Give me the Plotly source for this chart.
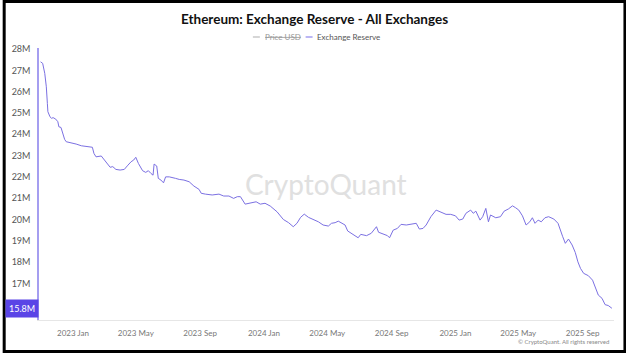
import plotly.graph_objects as go

dates = [
    "2022-10-31", "2022-11-04", "2022-11-08", "2022-11-11", "2022-11-13", "2022-11-14", "2022-11-18",
    "2022-11-21", "2022-11-24", "2022-11-29", "2022-12-03", "2022-12-05", "2022-12-09", "2022-12-11",
    "2022-12-13", "2022-12-16", "2022-12-19", "2022-12-29",
    "2023-01-07", "2023-01-17", "2023-01-30", "2023-02-07", "2023-02-10", "2023-02-14", "2023-02-24",
    "2023-03-02", "2023-03-09", "2023-03-13", "2023-03-18", "2023-03-24", "2023-04-01", "2023-04-09",
    "2023-04-16", "2023-04-22", "2023-04-27", "2023-05-01", "2023-05-06", "2023-05-11", "2023-05-14",
    "2023-05-20", "2023-05-25", "2023-05-30", "2023-06-03", "2023-06-05", "2023-06-10", "2023-06-13",
    "2023-06-18", "2023-06-23", "2023-06-27", "2023-07-04", "2023-07-10", "2023-07-16", "2023-07-23",
    "2023-08-01", "2023-08-11", "2023-08-20", "2023-08-30", "2023-09-03", "2023-09-11", "2023-09-24",
    "2023-10-07", "2023-10-16", "2023-10-26", "2023-11-04", "2023-11-11", "2023-11-17", "2023-11-26",
    "2023-12-06", "2023-12-17", "2023-12-25",
    "2024-01-03", "2024-01-13", "2024-01-26", "2024-02-07", "2024-02-17", "2024-02-26", "2024-03-04",
    "2024-03-11", "2024-03-18", "2024-03-26", "2024-04-06", "2024-04-14", "2024-04-23", "2024-05-03",
    "2024-05-09", "2024-05-16", "2024-05-22", "2024-05-28", "2024-06-04", "2024-06-09", "2024-06-16",
    "2024-06-23", "2024-06-29", "2024-07-04", "2024-07-15", "2024-07-24", "2024-07-31", "2024-08-03",
    "2024-08-07", "2024-08-16", "2024-08-24", "2024-08-28", "2024-09-04", "2024-09-12", "2024-09-19",
    "2024-09-29", "2024-10-08", "2024-10-18", "2024-10-24", "2024-10-31", "2024-11-06", "2024-11-15",
    "2024-11-25", "2024-12-04", "2024-12-14", "2024-12-23",
    "2025-01-01", "2025-01-08", "2025-01-15", "2025-01-21", "2025-01-30", "2025-02-04", "2025-02-09",
    "2025-02-17", "2025-02-22", "2025-02-28", "2025-03-05", "2025-03-09", "2025-03-19", "2025-03-28",
    "2025-04-04", "2025-04-12", "2025-04-20", "2025-04-26", "2025-05-02", "2025-05-09", "2025-05-16",
    "2025-05-23", "2025-05-28", "2025-06-02", "2025-06-08", "2025-06-14", "2025-06-21", "2025-06-28",
    "2025-07-08", "2025-07-16", "2025-07-20", "2025-07-25", "2025-07-30", "2025-08-05", "2025-08-12",
    "2025-08-18", "2025-08-23", "2025-08-28", "2025-09-03", "2025-09-12", "2025-09-20", "2025-09-25",
    "2025-10-01", "2025-10-08", "2025-10-14", "2025-10-20", "2025-10-27",
]

reserve_m = [
    27.40, 27.33, 26.86, 26.23, 25.45, 25.06, 24.82,
    24.75, 24.78, 24.71, 24.59, 24.35, 24.32, 24.12,
    23.96, 23.76, 23.65, 23.60,
    23.54, 23.46, 23.41, 23.39, 23.10, 22.94, 22.98,
    22.79, 22.55, 22.45, 22.48, 22.35, 22.32, 22.35,
    22.55, 22.71, 22.79, 22.92, 22.63, 22.40, 22.29,
    22.21, 22.29, 22.16, 22.08, 22.60, 22.51, 21.93,
    21.85, 21.72, 22.00, 22.00, 21.98, 21.93, 21.88,
    21.85, 21.77, 21.57, 21.41, 21.23, 21.19, 21.15,
    21.19, 21.10, 21.10, 20.99, 21.07, 21.07, 20.72,
    20.76, 20.83, 20.72,
    20.76, 20.63, 20.36, 20.00, 19.85, 19.66, 19.82,
    20.10, 20.25, 20.10, 20.00, 19.89, 19.74, 19.69,
    19.82, 19.85, 19.92, 19.82, 19.74, 19.46, 19.35,
    19.24, 19.14, 19.30, 19.24, 19.35, 19.58, 19.66,
    19.40, 19.30, 19.24, 19.14, 19.50, 19.58, 19.77,
    19.74, 19.77, 19.82, 19.55, 19.58, 19.74, 20.13,
    20.44, 20.33, 20.24, 20.24,
    20.17, 19.97, 20.02, 20.29, 20.44, 20.29, 20.39,
    19.97, 20.13, 20.52, 19.89, 20.21, 20.08, 20.13,
    20.39, 20.49, 20.64, 20.55, 20.44, 20.17, 19.74,
    19.89, 20.08, 19.82, 19.97, 19.89, 20.08, 20.13,
    20.02, 19.82, 19.50, 19.19, 18.88, 19.08, 18.80,
    18.45, 18.01, 17.70, 17.47, 17.36, 17.15, 16.84,
    16.45, 16.30, 16.00, 15.96, 15.83,
]

ytick_vals = [17, 18, 19, 20, 21, 22, 23, 24, 25, 26, 27, 28]
ytick_text = [f"{v}M" for v in ytick_vals]
xtick_vals = ["2023-01-01", "2023-05-01", "2023-09-01", "2024-01-01", "2024-05-01",
              "2024-09-01", "2025-01-01", "2025-05-01", "2025-09-01"]
xtick_text = ["2023 Jan", "2023 May", "2023 Sep", "2024 Jan", "2024 May",
              "2024 Sep", "2025 Jan", "2025 May", "2025 Sep"]
last_label = "15.8M"

W, H = 626, 353
L, R, T, B = 36, 12, 48, 33
PW, PH = W - L - R, H - T - B


def px(x):
    return (x - L) / PW


def py(y):
    return (H - B - y) / PH


LINE = "#7b70e2"
FONT = "Lato"

fig = go.Figure()
fig.add_trace(go.Scatter(x=dates, y=reserve_m, mode="lines",
                         line=dict(color=LINE, width=1), showlegend=False))

fig.update_layout(
    width=W, height=H,
    margin=dict(l=L, r=R, t=T, b=B),
    paper_bgcolor="white", plot_bgcolor="white",
    font=dict(family=FONT, color="#555"),
    showlegend=False,
    xaxis=dict(range=["2022-10-28", "2025-10-31"], tickvals=xtick_vals, ticktext=xtick_text,
               showgrid=False, zeroline=False, showline=True, linecolor="#e6e6e6", linewidth=1,
               ticks="", tickfont=dict(size=8, color="#777"), ticklabelstandoff=5),
    yaxis=dict(range=[15.28, 28.05], tickvals=ytick_vals, ticktext=ytick_text,
               showgrid=False, zeroline=False, showline=True, linecolor="#a59ef0", linewidth=1.5,
               ticks="", tickfont=dict(size=9, color="#555"), ticklabelstandoff=5),
)

ann = []
ann.append(dict(xref="paper", yref="paper", x=px(313), y=py(19), text="<b>Ethereum: Exchange Reserve - All Exchanges</b>",
                showarrow=False, font=dict(size=13.5, color="#111", family=FONT), xanchor="center", yanchor="middle"))
ann.append(dict(xref="paper", yref="paper", x=px(261), y=py(37), text="<s>Price USD</s>",
                showarrow=False, font=dict(size=8, color="#999", family=FONT), xanchor="left", yanchor="middle"))
ann.append(dict(xref="paper", yref="paper", x=px(313), y=py(37), text="Exchange Reserve",
                showarrow=False, font=dict(size=8, color="#555", family=FONT), xanchor="left", yanchor="middle"))
ann.append(dict(xref="paper", yref="paper", x=px(324), y=py(184), text="CryptoQuant",
                showarrow=False, font=dict(size=28, color="#e0e0e0", family=FONT), xanchor="center", yanchor="middle"))
ann.append(dict(xref="paper", yref="paper", x=px(611), y=py(341), text="© CryptoQuant. All rights reserved",
                showarrow=False, font=dict(size=6, color="#888", family=FONT), xanchor="right", yanchor="middle"))
ann.append(dict(xref="paper", yref="y", x=0, y=reserve_m[-1], text=last_label, showarrow=False,
                font=dict(size=9, color="white", family=FONT), xanchor="right", yanchor="middle",
                bgcolor="#5a44e6", borderpad=3))
fig.update_layout(annotations=ann)

shapes = [
    dict(type="line", xref="paper", yref="paper", x0=px(251), x1=px(258), y0=py(37), y1=py(37),
         line=dict(color="#c8c8c8", width=1.5)),
    dict(type="line", xref="paper", yref="paper", x0=px(304), x1=px(311), y0=py(37), y1=py(37),
         line=dict(color="#a59ef0", width=1.5)),
    dict(type="rect", xref="paper", yref="paper", x0=px(1), x1=px(625), y0=py(1.5), y1=py(351.5),
         line=dict(color="black", width=3), fillcolor="rgba(0,0,0,0)"),
]
fig.update_layout(shapes=shapes)

fig.write_html("out.html")
